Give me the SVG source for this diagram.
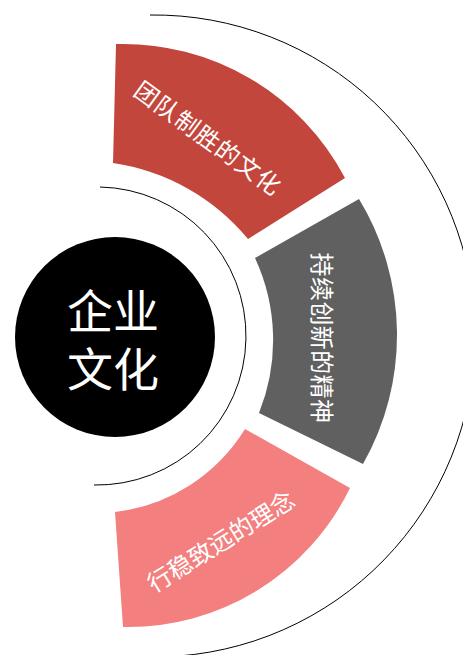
<svg xmlns="http://www.w3.org/2000/svg" width="463" height="655" viewBox="0 0 463 655">
  <style>
    .arc { fill: none; stroke: #000; stroke-width: 1; }
    .lbl { fill: #fff; font-family: "Noto Sans CJK SC", "Noto Sans", sans-serif; font-size: 24px; text-anchor: middle; dominant-baseline: central; }
    .big { fill: #fff; font-family: "Noto Sans CJK SC", "Noto Sans", sans-serif; font-size: 46px; text-anchor: middle; }
  </style>
  <rect width="463" height="655" fill="#fff"/>
  <g id="arcs">
    <path class="arc" d="M150,15 A321,321 0 0 1 179,656"/>
    <path class="arc" d="M100,187 A149,149 0 0 1 94,485"/>
  </g>
  <g id="seg-team">
    <path d="M116,44 A251,251 0 0 1 345,178 L248,239 A216,216 0 0 0 113,163 Z" fill="#C3463C"/>
    <text class="lbl" letter-spacing="1" transform="translate(209,137) rotate(36)">团队制胜的文化</text>
  </g>
  <g id="seg-innovate">
    <path d="M359,199 A262,262 0 0 1 363,464 L259,413 A195,195 0 0 0 255,258 Z" fill="#606060"/>
    <text class="lbl" letter-spacing="0.4" transform="translate(323,338) rotate(90)">持续创新的精神</text>
  </g>
  <g id="seg-steady">
    <path d="M350,488 A247,247 0 0 1 123,627 L115,512 A177,177 0 0 0 245,429 Z" fill="#F37F7F"/>
    <text class="lbl" transform="translate(220,540) rotate(-31.8)">行稳致远的理念</text>
  </g>
  <g id="center">
    <circle cx="115" cy="337" r="100" fill="#000"/>
    <text class="big"><tspan x="113" y="328">企业</tspan><tspan x="113" y="386">文化</tspan></text>
  </g>
</svg>
